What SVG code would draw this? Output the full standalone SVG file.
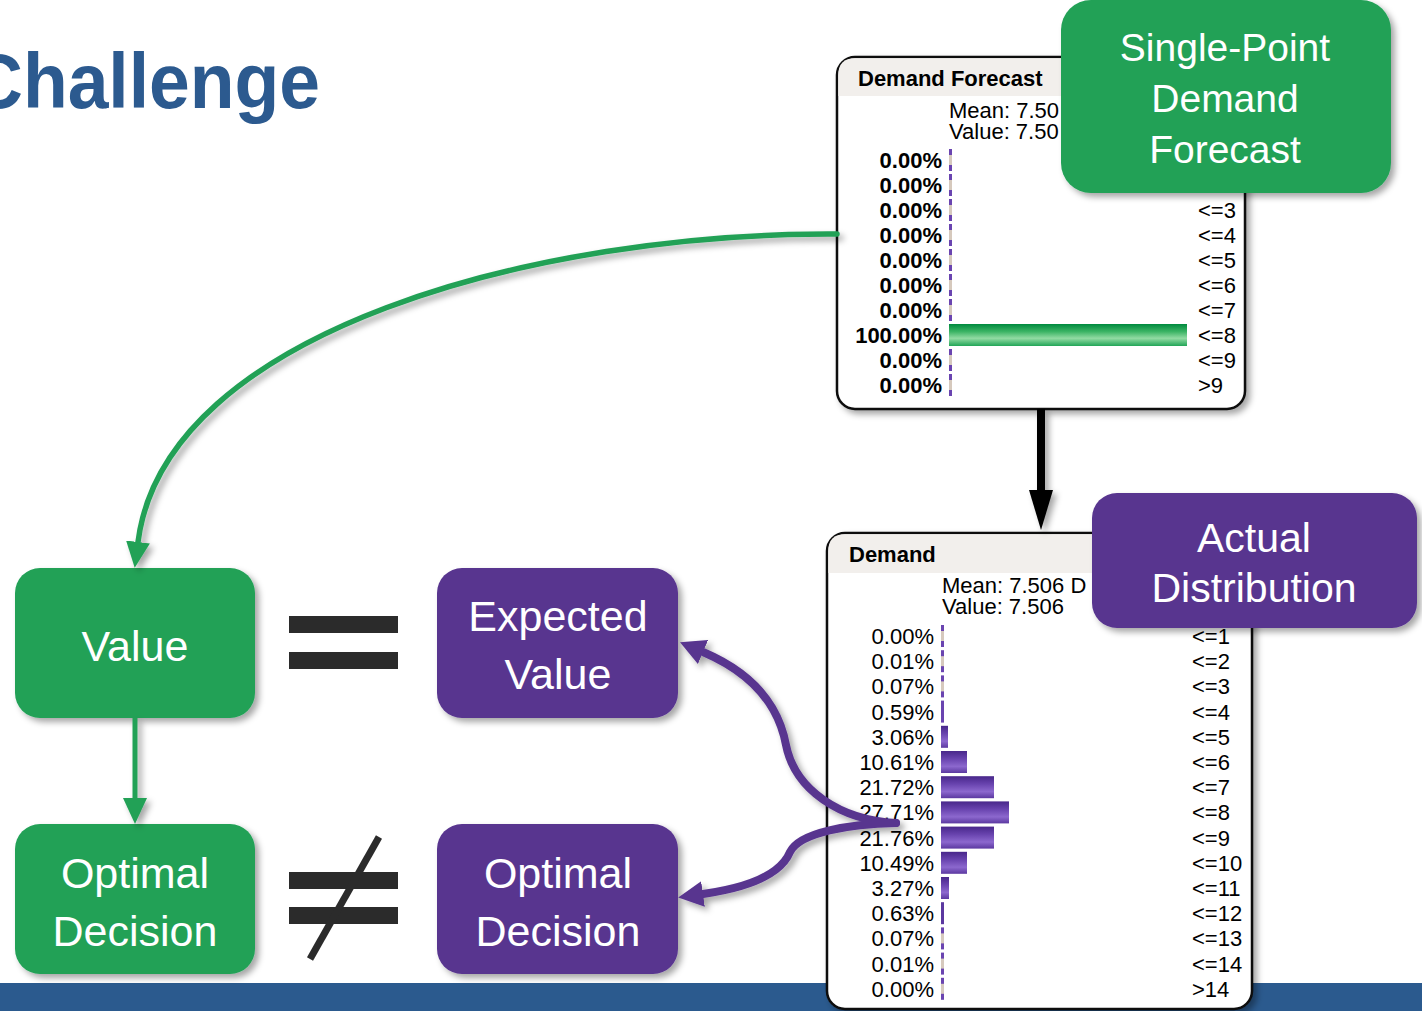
<svg xmlns="http://www.w3.org/2000/svg" xmlns:xlink="http://www.w3.org/1999/xlink" width="1422" height="1011" viewBox="0 0 1422 1011">
  <style>
    .bold { font-family: "Liberation Sans", Arial, sans-serif; font-weight: bold; font-size: 22px; fill: #000; }
    .reg { font-family: "Liberation Sans", Arial, sans-serif; font-size: 22px; fill: #000; }
    .pct { text-anchor: end; }
    .node { font-family: "Liberation Sans", Arial, sans-serif; font-size: 43px; fill: #fff; text-anchor: middle; }
    .tag { font-family: "Liberation Sans", Arial, sans-serif; font-size: 39px; fill: #fff; text-anchor: middle; }
    .tag.big { font-size: 41px; }
    .green { fill: #22A157; }
    .purple { fill: #59358F; }
    .chart { fill: #fff; stroke: #111; stroke-width: 2.5; }
    .header { fill: #F2EFEC; }
    .sym { fill: #2B2B2B; }
  </style>
  <defs>
    <filter id="shadow" x="-10%" y="-10%" width="130%" height="130%">
      <feDropShadow dx="4" dy="4" stdDeviation="3" flood-color="#000" flood-opacity="0.35"/>
    </filter>
    <linearGradient id="gbar" x1="0" y1="0" x2="0" y2="1">
      <stop offset="0" stop-color="#008A3E"/>
      <stop offset="0.35" stop-color="#3CB465"/>
      <stop offset="0.65" stop-color="#92DBA3"/>
      <stop offset="1" stop-color="#22A557"/>
    </linearGradient>
    <linearGradient id="pbar" x1="0" y1="0" x2="0" y2="1">
      <stop offset="0" stop-color="#48278A"/>
      <stop offset="0.35" stop-color="#6843AE"/>
      <stop offset="0.7" stop-color="#8C68CE"/>
      <stop offset="1" stop-color="#5B38A0"/>
    </linearGradient>
    <!-- near-zero bar: thin purple tick with a pale middle -->
    <g id="zbar">
      <rect x="0" y="-19" width="3" height="22" fill="#6A44B0"/>
      <rect x="0" y="-13" width="3" height="10" fill="#D6C9BD"/>
    </g>
    <marker id="headGreen" viewBox="0 -13 26 26" markerUnits="userSpaceOnUse" markerWidth="26" markerHeight="26" refX="0" refY="0" orient="auto">
      <path d="M0,-12 L26,0 L0,12 Z" fill="#22A157"/>
    </marker>
    <marker id="headBlack" viewBox="0 -12 40 24" markerUnits="userSpaceOnUse" markerWidth="40" markerHeight="24" refX="0" refY="0" orient="auto">
      <path d="M0,-12 L40,0 L0,12 Z" fill="#000"/>
    </marker>
    <marker id="headPurple" viewBox="0 -14 25 28" markerUnits="userSpaceOnUse" markerWidth="25" markerHeight="28" refX="0" refY="0" orient="auto">
      <path d="M0,-13 L25,0 L0,13 Z" fill="#59358F"/>
    </marker>
  </defs>

  <rect width="1422" height="1011" fill="#fff"/>

  <!-- title -->
  <g id="title">
    <text x="-30" y="108" textLength="350" lengthAdjust="spacingAndGlyphs" font-family="Liberation Sans, Arial, sans-serif" font-weight="bold" font-size="78" fill="#2C5A8F">Challenge</text>
  </g>

  <!-- footer band -->
  <rect id="footer" x="0" y="983" width="1422" height="28" fill="#2B5A8E"/>

  <!-- Demand Forecast chart -->
  <g id="demand-forecast-chart">
    <rect class="chart" x="837" y="57" width="408" height="352" rx="18" filter="url(#shadow)"/>
    <path class="header" d="M838.3,96 V75 Q838.3,58.3 855,58.3 H1227 Q1243.7,58.3 1243.7,75 V96 Z"/>
    <text class="bold" x="858" y="86">Demand Forecast</text>
    <text class="reg" x="949" y="118">Mean: 7.50</text>
    <text class="reg" x="949" y="139">Value: 7.50</text>
    <g class="bold pct">
      <text x="942" y="168">0.00%</text>
      <text x="942" y="193">0.00%</text>
      <text x="942" y="218">0.00%</text>
      <text x="942" y="243">0.00%</text>
      <text x="942" y="268">0.00%</text>
      <text x="942" y="293">0.00%</text>
      <text x="942" y="318">0.00%</text>
      <text x="942" y="343">100.00%</text>
      <text x="942" y="368">0.00%</text>
      <text x="942" y="393">0.00%</text>
    </g>
    <use href="#zbar" x="949" y="168"/>
    <use href="#zbar" x="949" y="193"/>
    <use href="#zbar" x="949" y="218"/>
    <use href="#zbar" x="949" y="243"/>
    <use href="#zbar" x="949" y="268"/>
    <use href="#zbar" x="949" y="293"/>
    <use href="#zbar" x="949" y="318"/>
    <rect x="949" y="324" width="238" height="22" fill="url(#gbar)"/>
    <use href="#zbar" x="949" y="368"/>
    <use href="#zbar" x="949" y="393"/>
    <g class="reg">
      <text x="1198" y="218">&lt;=3</text>
      <text x="1198" y="243">&lt;=4</text>
      <text x="1198" y="268">&lt;=5</text>
      <text x="1198" y="293">&lt;=6</text>
      <text x="1198" y="318">&lt;=7</text>
      <text x="1198" y="343">&lt;=8</text>
      <text x="1198" y="368">&lt;=9</text>
      <text x="1198" y="393">&gt;9</text>
    </g>
  </g>

  <!-- Single-Point Demand Forecast tag -->
  <g id="single-point-tag">
    <rect class="green" x="1061" y="0" width="330" height="193" rx="30" filter="url(#shadow)"/>
    <text class="tag" x="1225" y="61">Single-Point</text>
    <text class="tag" x="1225" y="112">Demand</text>
    <text class="tag" x="1225" y="163">Forecast</text>
  </g>

  <!-- Demand chart -->
  <g id="demand-chart">
    <rect class="chart" x="827" y="533" width="425" height="476" rx="18" filter="url(#shadow)"/>
    <path class="header" d="M828.3,573 V551 Q828.3,534.3 845,534.3 H1234 Q1250.7,534.3 1250.7,551 V573 Z"/>
    <text class="bold" x="849" y="562">Demand</text>
    <text class="reg" x="942" y="593">Mean: 7.506 D</text>
    <text class="reg" x="942" y="614">Value: 7.506</text>
    <g class="reg pct">
      <text x="934" y="644">0.00%</text>
      <text x="934" y="669.2">0.01%</text>
      <text x="934" y="694.4">0.07%</text>
      <text x="934" y="719.6">0.59%</text>
      <text x="934" y="744.8">3.06%</text>
      <text x="934" y="770">10.61%</text>
      <text x="934" y="795.2">21.72%</text>
      <text x="934" y="820.4">27.71%</text>
      <text x="934" y="845.6">21.76%</text>
      <text x="934" y="870.8">10.49%</text>
      <text x="934" y="896">3.27%</text>
      <text x="934" y="921.2">0.63%</text>
      <text x="934" y="946.4">0.07%</text>
      <text x="934" y="971.6">0.01%</text>
      <text x="934" y="996.8">0.00%</text>
    </g>
    <use href="#zbar" x="941" y="644"/>
    <use href="#zbar" x="941" y="669.2"/>
    <use href="#zbar" x="941" y="694.4"/>
    <rect x="941" y="700.6" width="3" height="22" fill="#6A44B0"/>
    <rect x="941" y="725.8" width="7" height="22" fill="url(#pbar)"/>
    <rect x="941" y="751" width="26" height="22" fill="url(#pbar)"/>
    <rect x="941" y="776.2" width="53" height="22" fill="url(#pbar)"/>
    <rect x="941" y="801.4" width="68" height="22" fill="url(#pbar)"/>
    <rect x="941" y="826.6" width="53" height="22" fill="url(#pbar)"/>
    <rect x="941" y="851.8" width="26" height="22" fill="url(#pbar)"/>
    <rect x="941" y="877" width="8" height="22" fill="url(#pbar)"/>
    <rect x="941" y="902.2" width="3" height="22" fill="#5B38A0"/>
    <use href="#zbar" x="941" y="946.4"/>
    <use href="#zbar" x="941" y="971.6"/>
    <use href="#zbar" x="941" y="996.8"/>
    <g class="reg">
      <text x="1192" y="644">&lt;=1</text>
      <text x="1192" y="669.2">&lt;=2</text>
      <text x="1192" y="694.4">&lt;=3</text>
      <text x="1192" y="719.6">&lt;=4</text>
      <text x="1192" y="744.8">&lt;=5</text>
      <text x="1192" y="770">&lt;=6</text>
      <text x="1192" y="795.2">&lt;=7</text>
      <text x="1192" y="820.4">&lt;=8</text>
      <text x="1192" y="845.6">&lt;=9</text>
      <text x="1192" y="870.8">&lt;=10</text>
      <text x="1192" y="896">&lt;=11</text>
      <text x="1192" y="921.2">&lt;=12</text>
      <text x="1192" y="946.4">&lt;=13</text>
      <text x="1192" y="971.6">&lt;=14</text>
      <text x="1192" y="996.8">&gt;14</text>
    </g>
  </g>

  <!-- Actual Distribution tag -->
  <g id="actual-distribution-tag">
    <rect class="purple" x="1092" y="493" width="325" height="135" rx="25" filter="url(#shadow)"/>
    <text class="tag big" x="1254" y="552">Actual</text>
    <text class="tag big" x="1254" y="602">Distribution</text>
  </g>

  <!-- decision nodes -->
  <g id="value">
    <rect class="green" x="15" y="568" width="240" height="150" rx="25" filter="url(#shadow)"/>
    <text class="node" x="135" y="661">Value</text>
  </g>
  <g id="optimal-decision-green">
    <rect class="green" x="15" y="824" width="240" height="150" rx="25" filter="url(#shadow)"/>
    <text class="node" x="135" y="888">Optimal</text>
    <text class="node" x="135" y="946">Decision</text>
  </g>
  <g id="expected-value">
    <rect class="purple" x="437" y="568" width="241" height="150" rx="25" filter="url(#shadow)"/>
    <text class="node" x="558" y="631">Expected</text>
    <text class="node" x="558" y="689">Value</text>
  </g>
  <g id="optimal-decision-purple">
    <rect class="purple" x="437" y="824" width="241" height="150" rx="25" filter="url(#shadow)"/>
    <text class="node" x="558" y="888">Optimal</text>
    <text class="node" x="558" y="946">Decision</text>
  </g>

  <!-- relation symbols -->
  <g id="equals">
    <rect class="sym" x="289" y="616" width="109" height="17"/>
    <rect class="sym" x="289" y="652" width="109" height="17"/>
  </g>
  <g id="not-equals">
    <rect class="sym" x="289" y="872" width="109" height="17"/>
    <rect class="sym" x="289" y="907" width="109" height="17"/>
    <line x1="379" y1="837" x2="310" y2="959" stroke="#2B2B2B" stroke-width="7"/>
  </g>

  <!-- connectors -->
  <g id="connectors" fill="none" filter="url(#shadow)">
    <path d="M837,234 C540,232 165,330 138,542" stroke="#22A157" stroke-width="5.5" stroke-linecap="round" marker-end="url(#headGreen)"/>
    <line x1="135" y1="718" x2="135" y2="798" stroke="#22A157" stroke-width="5" marker-end="url(#headGreen)"/>
    <line x1="1041" y1="409" x2="1041" y2="490" stroke="#000" stroke-width="8" marker-end="url(#headBlack)"/>
    <path d="M896,823 C840,820 795,790 786,745 C778,702 750,672 703,652" stroke="#59358F" stroke-width="8" stroke-linecap="round" marker-end="url(#headPurple)"/>
    <path d="M896,823 C850,824 800,832 790,852 C780,876 745,888 703,894" stroke="#59358F" stroke-width="8" stroke-linecap="round" marker-end="url(#headPurple)"/>
  </g>
</svg>
